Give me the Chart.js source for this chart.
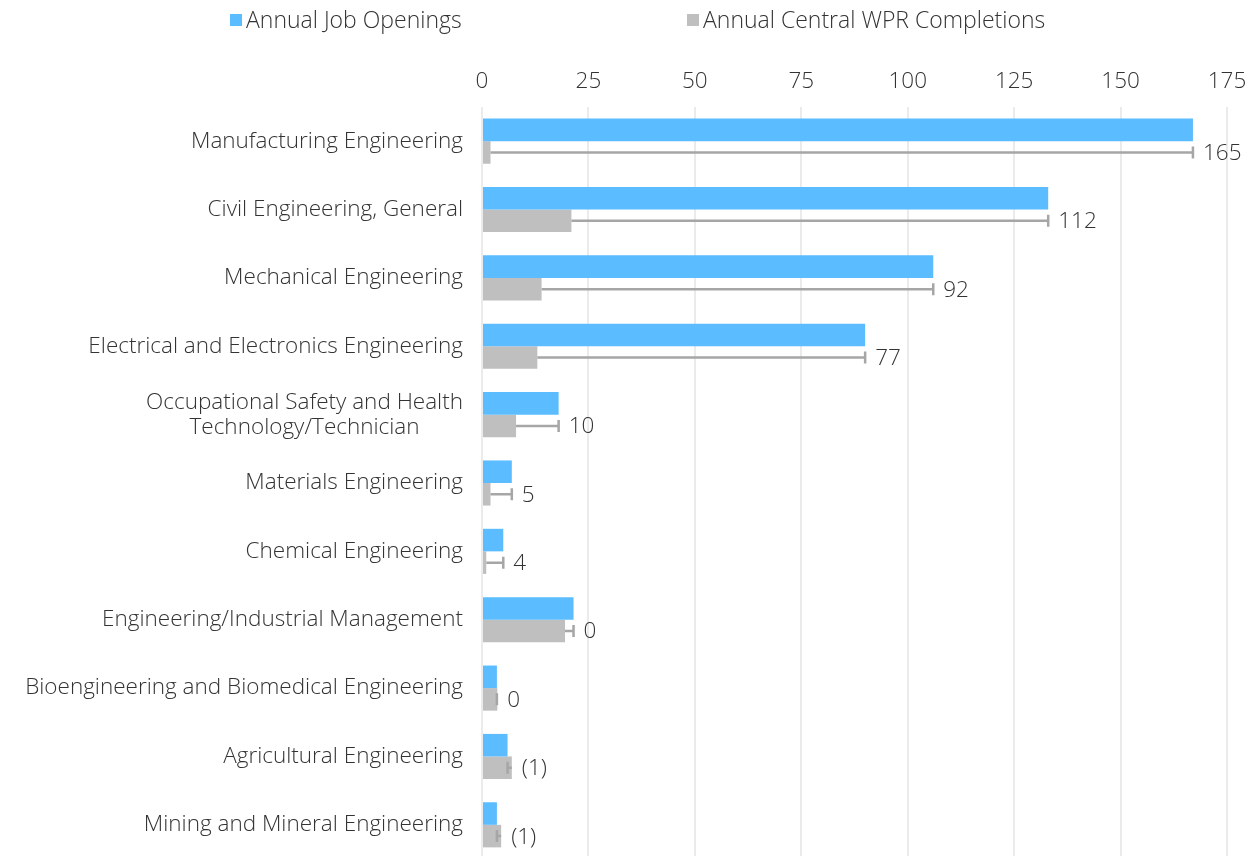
<!DOCTYPE html>
<html>
<head>
<meta charset="utf-8">
<script src="https://cdn.jsdelivr.net/npm/chart.js@4"></script>
<style>
  html, body { margin: 0; padding: 0; background: #ffffff; overflow: hidden; }
  #wrap { position: relative; width: 1251px; height: 859px; }
</style>
</head>
<body>
<div id="wrap"><canvas id="chart"></canvas></div>
<script>
// Engineering programs: annual job openings vs. annual completions
const categories = [
  'Manufacturing Engineering',
  'Civil Engineering, General',
  'Mechanical Engineering',
  'Electrical and Electronics Engineering',
  ['Occupational Safety and Health', 'Technology/Technician'],
  'Materials Engineering',
  'Chemical Engineering',
  'Engineering/Industrial Management',
  'Bioengineering and Biomedical Engineering',
  'Agricultural Engineering',
  'Mining and Mineral Engineering'
];
const jobOpenings = [167, 133, 106, 90, 18, 7, 5, 21.5, 3.5, 6, 3.5];
const completions = [2, 21, 14, 13, 8, 2, 1, 19.5, 3.6, 7, 4.5];
// Gap between openings and completions, as printed next to each bar
const gapLabels = ['165', '112', '92', '77', '10', '5', '4', '0', '0', '(1)', '(1)'];
const seriesNames = ['Annual Job Openings', 'Annual Central WPR Completions'];
const axisMin = 0, axisMax = 175, axisStep = 25;

const FONT_FAMILY = '"Open Sans", "Noto Sans", sans-serif';
const FONT_SIZE = 22.5;
const TEXT_COLOR = '#333333';
const BLUE = '#5bbcff';
const GRAY = '#bfbfbf';
const WHISKER = '#a6a6a6';
const labelFont = '300 ' + FONT_SIZE + 'px ' + FONT_FAMILY;
const legendFont = '300 23px ' + FONT_FAMILY;

// Whisker from the end of each completions bar to the openings value, with the gap label
const gapWhiskers = {
  id: 'gapWhiskers',
  afterDatasetsDraw(chart) {
    const ctx = chart.ctx;
    const xs = chart.scales.x;
    const meta = chart.getDatasetMeta(1);
    ctx.save();
    ctx.strokeStyle = WHISKER;
    ctx.lineWidth = 2.5;
    ctx.font = labelFont;
    ctx.fillStyle = TEXT_COLOR;
    ctx.textAlign = 'left';
    ctx.textBaseline = 'middle';
    meta.data.forEach((bar, i) => {
      const y = bar.y;
      const x0 = bar.x;
      const x1 = xs.getPixelForValue(jobOpenings[i]);
      ctx.beginPath();
      ctx.moveTo(x0, y);
      ctx.lineTo(x1, y);
      ctx.moveTo(x1, y - 6);
      ctx.lineTo(x1, y + 6);
      ctx.stroke();
      ctx.fillText(gapLabels[i], Math.max(x0, x1) + 10, y + 1);
    });
    ctx.restore();
  }
};

// Category labels: right-aligned block, multi-line labels centred within the block
const categoryLabels = {
  id: 'categoryLabels',
  afterDraw(chart) {
    const ctx = chart.ctx;
    const ys = chart.scales.y;
    const right = chart.chartArea.left - 19;
    const lineH = 25;
    ctx.save();
    ctx.font = labelFont;
    ctx.fillStyle = TEXT_COLOR;
    ctx.textBaseline = 'middle';
    ctx.textAlign = 'center';
    categories.forEach((label, i) => {
      const lines = Array.isArray(label) ? label : [label];
      const maxW = Math.max(...lines.map(l => ctx.measureText(l).width));
      const cx = right - maxW / 2;
      const yc = ys.getPixelForValue(i);
      const y0 = yc - (lines.length - 1) * lineH / 2;
      lines.forEach((l, k) => ctx.fillText(l, cx, y0 + k * lineH));
    });
    ctx.restore();
  }
};

// Legend row across the top
const legendX = [230, 687];
const topLegend = {
  id: 'topLegend',
  afterDraw(chart) {
    const ctx = chart.ctx;
    const colors = [BLUE, GRAY];
    const y = 20;
    ctx.save();
    ctx.font = legendFont;
    ctx.textBaseline = 'middle';
    ctx.textAlign = 'left';
    seriesNames.forEach((name, i) => {
      ctx.fillStyle = colors[i];
      ctx.fillRect(legendX[i], y - 6, 12, 12);
      ctx.fillStyle = TEXT_COLOR;
      ctx.fillText(name, legendX[i] + 16, y + 1);
    });
    ctx.restore();
  }
};

new Chart(document.getElementById('chart'), {
  type: 'bar',
  data: {
    labels: categories,
    datasets: [
      { label: seriesNames[0], data: jobOpenings, backgroundColor: BLUE },
      { label: seriesNames[1], data: completions, backgroundColor: GRAY }
    ]
  },
  options: {
    indexAxis: 'y',
    responsive: true,
    maintainAspectRatio: false,
    devicePixelRatio: 1,
    animation: false,
    layout: { padding: { left: 482, right: 24, top: 67, bottom: 0 } },
    datasets: { bar: { categoryPercentage: 0.66, barPercentage: 1.0 } },
    plugins: { legend: { display: false }, tooltip: { enabled: false } },
    scales: {
      x: {
        position: 'top',
        min: axisMin,
        max: axisMax,
        afterFit(scale) {
          scale.height = 40;
          scale.paddingLeft = 0;
          scale.paddingRight = 0;
        },
        grid: { color: '#ebebeb', lineWidth: 2, drawTicks: false },
        border: { display: false },
        ticks: {
          stepSize: axisStep,
          padding: 12,
          color: TEXT_COLOR,
          font: { family: FONT_FAMILY, size: FONT_SIZE, weight: '300' }
        }
      },
      y: {
        display: false
      }
    }
  },
  plugins: [gapWhiskers, categoryLabels, topLegend]
});
</script>
</body>
</html>
